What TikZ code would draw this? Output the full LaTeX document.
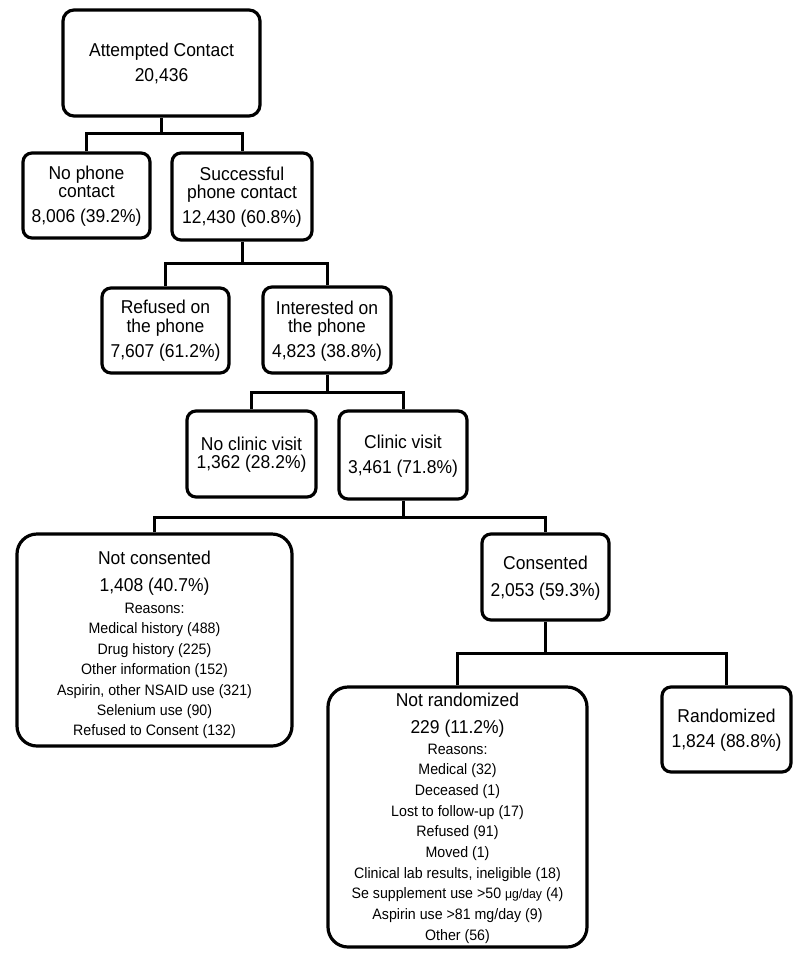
\documentclass[tikz,border=0pt]{standalone}
\usepackage{fontspec}
\setmainfont{Liberation Sans}[FakeStretch=0.94]
\begin{document}
\begin{tikzpicture}[x=1pt,y=-1pt,
  box/.style={draw=black, line width=3.2pt, rounded corners=9pt, inner sep=0pt},
  bigbox/.style={box, rounded corners=20pt},
  conn/.style={draw=black, line width=3pt},
  ttl/.style={anchor=base, inner sep=0pt, font=\fontsize{18.6}{19}\selectfont},
  rsn/.style={anchor=base, inner sep=0pt, font=\fontsize{15.1}{16}\selectfont}]
\useasboundingbox (0,0) rectangle (800,959);

% boxes
\node[box, rounded corners=11pt, minimum width=197pt, minimum height=106pt] (A) at (161.5,63) {};
\node[box, minimum width=127pt, minimum height=85pt] (B) at (86.5,195.5) {};
\node[box, minimum width=140pt, minimum height=87pt] (C) at (242,196.5) {};
\node[box, minimum width=127pt, minimum height=85pt] (D) at (165.5,330.5) {};
\node[box, minimum width=128pt, minimum height=86pt] (E) at (327,330) {};
\node[box, minimum width=129pt, minimum height=86pt] (F) at (251.5,454) {};
\node[box, minimum width=128pt, minimum height=88pt] (G) at (403,455) {};
\node[bigbox, minimum width=275pt, minimum height=212pt] (H) at (154.5,640) {};
\node[box, minimum width=127pt, minimum height=86pt] (I) at (545.5,577) {};
\node[bigbox, minimum width=259pt, minimum height=260pt] (J) at (457.5,817) {};
\node[box, minimum width=129pt, minimum height=85pt] (K) at (726.5,729.5) {};

% texts
\node[ttl] (A1) at (161.5,56.5) {Attempted Contact};
\node[ttl] (A2) at (161.5,81) {20,436};

\node[ttl] (B1) at (86.5,179) {No phone};
\node[ttl] (B2) at (86.5,197) {contact};
\node[ttl] (B3) at (86.5,222) {8,006 (39.2\%)};

\node[ttl] (C1) at (242,180) {Successful};
\node[ttl] (C2) at (242,198) {phone contact};
\node[ttl] (C3) at (242,223) {12,430 (60.8\%)};

\node[ttl] (D1) at (165.5,313) {Refused on};
\node[ttl] (D2) at (165.5,332) {the phone};
\node[ttl] (D3) at (165.5,357) {7,607 (61.2\%)};

\node[ttl] (E1) at (327,314) {Interested on};
\node[ttl] (E2) at (327,332) {the phone};
\node[ttl] (E3) at (327,357) {4,823 (38.8\%)};

\node[ttl] (F1) at (251.5,450) {No clinic visit};
\node[ttl] (F2) at (251.5,468) {1,362 (28.2\%)};

\node[ttl] (G1) at (403,448) {Clinic visit};
\node[ttl] (G2) at (403,473) {3,461 (71.8\%)};

\node[ttl] (H1) at (154.5,564) {Not consented};
\node[ttl] (H2) at (154.5,591) {1,408 (40.7\%)};
\node[rsn] (H3) at (154.5,613) {Reasons:};
\node[rsn] (H4) at (154.5,633.5) {Medical history (488)};
\node[rsn] (H5) at (154.5,654) {Drug history (225)};
\node[rsn] (H6) at (154.5,674.5) {Other information (152)};
\node[rsn] (H7) at (154.5,695) {Aspirin, other NSAID use (321)};
\node[rsn] (H8) at (154.5,715) {Selenium use (90)};
\node[rsn] (H9) at (154.5,735.5) {Refused to Consent (132)};

\node[ttl] (I1) at (545.5,569) {Consented};
\node[ttl] (I2) at (545.5,596) {2,053 (59.3\%)};

\node[ttl] (J1) at (457.5,706) {Not randomized};
\node[ttl] (J2) at (457.5,733) {229 (11.2\%)};
\node[rsn] (J3) at (457.5,754) {Reasons:};
\node[rsn] (J4) at (457.5,774) {Medical (32)};
\node[rsn] (J5) at (457.5,795) {Deceased (1)};
\node[rsn] (J6) at (457.5,816) {Lost to follow-up (17)};
\node[rsn] (J7) at (457.5,836.5) {Refused (91)};
\node[rsn] (J8) at (457.5,857) {Moved (1)};
\node[rsn] (J9) at (457.5,878) {Clinical lab results, ineligible (18)};
\node[rsn] (J10) at (457.5,898.5) {Se supplement use >50 {\fontsize{13}{14}\selectfont μg/day} (4)};
\node[rsn] (J11) at (457.5,919.5) {Aspirin use >81 mg/day (9)};
\node[rsn] (J12) at (457.5,940) {Other (56)};

\node[ttl] (K1) at (726.5,722) {Randomized};
\node[ttl] (K2) at (726.5,747) {1,824 (88.8\%)};

% connectors
\coordinate (ja) at (161.5,133);
\coordinate (jc) at (242,263.5);
\coordinate (je) at (327,392);
\coordinate (jg) at (403,517);
\coordinate (ji) at (545.5,653);

\draw[conn] (A.south) -- (ja);
\draw[conn] (B.north) |- (ja) -| (C.north);
\draw[conn] (C.south) -- (jc);
\draw[conn] (D.north) |- (jc) -| (E.north);
\draw[conn] (E.south) -- (je);
\draw[conn] (F.north) |- (je) -| (G.north);
\draw[conn] (G.south) -- (jg);
\draw[conn] (H.north) |- (jg) -| (I.north);
\draw[conn] (I.south) -- (ji);
\draw[conn] (J.north) |- (ji) -| (K.north);
\end{tikzpicture}
\end{document}
